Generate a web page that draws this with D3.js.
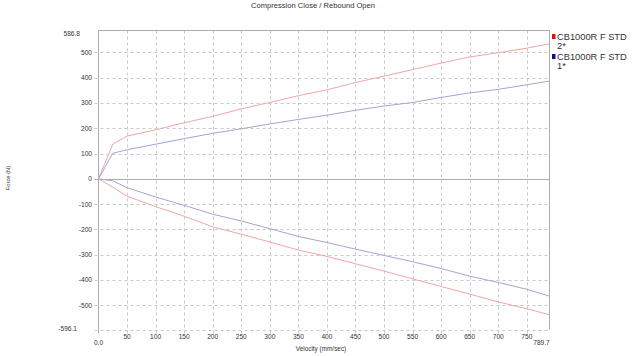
<!DOCTYPE html>
<html><head><meta charset="utf-8">
<script src="https://cdn.jsdelivr.net/npm/d3@7"></script>
<style>body{margin:0;background:#fff}svg{display:block}text{font-family:"Liberation Sans",Arial,sans-serif;fill:#333}</style>
</head><body>
<script>
const velocity = [0, 25, 50, 100, 150, 200, 250, 300, 350, 400, 450, 500, 550, 600, 650, 700, 750, 789.7];
const redCompression = [0, 137, 169, 194, 222, 247, 277, 302, 329, 352, 381, 406, 432, 458, 482, 499, 517, 534];
const blueCompression = [0, 101, 115, 137, 159, 180, 198, 217, 235, 252, 271, 288, 302, 322, 340, 354, 372, 387];
const redRebound = [0, -33, -69, -110, -148, -190, -219, -250, -282, -307, -336, -365, -396, -426, -456, -487, -514, -538];
const blueRebound = [0, -8, -35, -72, -105, -140, -167, -197, -228, -252, -278, -303, -328, -355, -385, -410, -437, -464];
const xTicks = [50, 100, 150, 200, 250, 300, 350, 400, 450, 500, 550, 600, 650, 700, 750];
const yTicks = [-500, -400, -300, -200, -100, 0, 100, 200, 300, 400, 500];
const xMin = 0, xMax = 789.7, yMin = -596.1, yMax = 586.8;
const legendNames = ["CB1000R F STD", "CB1000R F STD"];
const legendSub = ["2*", "1*"];
const title = "Compression Close / Rebound Open";

const W = 640, H = 356;
const L = 98.5, R = 549.5, T = 30.5, B = 329.5;
const svg = d3.select("body").append("svg").attr("width", W).attr("height", H);
const x = d3.scaleLinear().domain([xMin, xMax]).range([L, R]);
const y = d3.scaleLinear().domain([yMin, yMax]).range([B, T]);

// grid
const grid = svg.append("g").attr("stroke", "#c8c8c8").attr("stroke-dasharray", "3,3").attr("stroke-width", 1);
xTicks.forEach(v => grid.append("line").attr("x1", Math.round(x(v)) + 0.5).attr("x2", Math.round(x(v)) + 0.5).attr("y1", T).attr("y2", B + 4));
yTicks.filter(v => v !== 0).concat([yMin]).forEach(v => grid.append("line").attr("x1", L - 4).attr("x2", R).attr("y1", Math.round(y(v)) + 0.5).attr("y2", Math.round(y(v)) + 0.5));

// frame
const fr = svg.append("g").attr("stroke", "#acacac").attr("stroke-width", 1).attr("fill", "none");
fr.append("line").attr("x1", L).attr("x2", R).attr("y1", T).attr("y2", T);
fr.append("line").attr("x1", R).attr("x2", R).attr("y1", T).attr("y2", B);
fr.append("line").attr("x1", L).attr("x2", L).attr("y1", T).attr("y2", B + 4);
fr.append("line").attr("x1", L - 4).attr("x2", R).attr("y1", Math.round(y(0)) + 0.5).attr("y2", Math.round(y(0)) + 0.5);

// tick labels
const fs = 6.6;
xTicks.forEach(v => svg.append("text").attr("x", x(v)).attr("y", 339).attr("text-anchor", "middle").attr("font-size", fs).text(v));
svg.append("text").attr("x", x(xMin)).attr("y", 345).attr("text-anchor", "middle").attr("font-size", fs).text(xMin.toFixed(1));
svg.append("text").attr("x", x(xMax) - 8).attr("y", 345).attr("text-anchor", "middle").attr("font-size", fs).text(xMax.toFixed(1));
yTicks.forEach(v => svg.append("text").attr("x", 92).attr("y", y(v) + 2.4).attr("text-anchor", "end").attr("font-size", fs).text(v));
svg.append("text").attr("x", 80).attr("y", y(yMax) + 5.5).attr("text-anchor", "end").attr("font-size", fs).text(yMax.toFixed(1));
svg.append("text").attr("x", 77).attr("y", y(yMin) + 1.5).attr("text-anchor", "end").attr("font-size", fs).text(yMin.toFixed(1));

// axis titles
svg.append("text").attr("x", W / 2 - 7).attr("y", 8).attr("text-anchor", "middle").attr("font-size", 7.6).text(title);
svg.append("text").attr("x", 321).attr("y", 351).attr("text-anchor", "middle").attr("font-size", 6.4).text("Velocity (mm/sec)");
svg.append("text").attr("transform", "translate(10,178) rotate(-90)").attr("text-anchor", "middle").attr("font-size", 5.8).text("Force (N)");

// lines
const line = d3.line().x(d => x(d[0])).y(d => y(d[1]));
const series = [
  {vals: redCompression, color: "#f2a6a6"},
  {vals: redRebound, color: "#f2a6a6"},
  {vals: blueCompression, color: "#a4a4d6"},
  {vals: blueRebound, color: "#a4a4d6"}
];
series.forEach(s => svg.append("path").datum(velocity.map((v, i) => [v, s.vals[i]]))
  .attr("d", line).attr("fill", "none").attr("stroke", s.color).attr("stroke-width", 1));

// legend
const legColors = ["#e01010", "#10108a"];
legendNames.forEach((n, i) => {
  const y0 = 34 + i * 20;
  svg.append("rect").attr("x", 552).attr("y", y0).attr("width", 3.5).attr("height", 5).attr("fill", legColors[i]);
  svg.append("text").attr("x", 557).attr("y", y0 + 5.5).attr("font-size", 9.3).text(n);
  svg.append("text").attr("x", 557).attr("y", y0 + 14.5).attr("font-size", 9.3).text(legendSub[i]);
});
</script>
</body></html>
